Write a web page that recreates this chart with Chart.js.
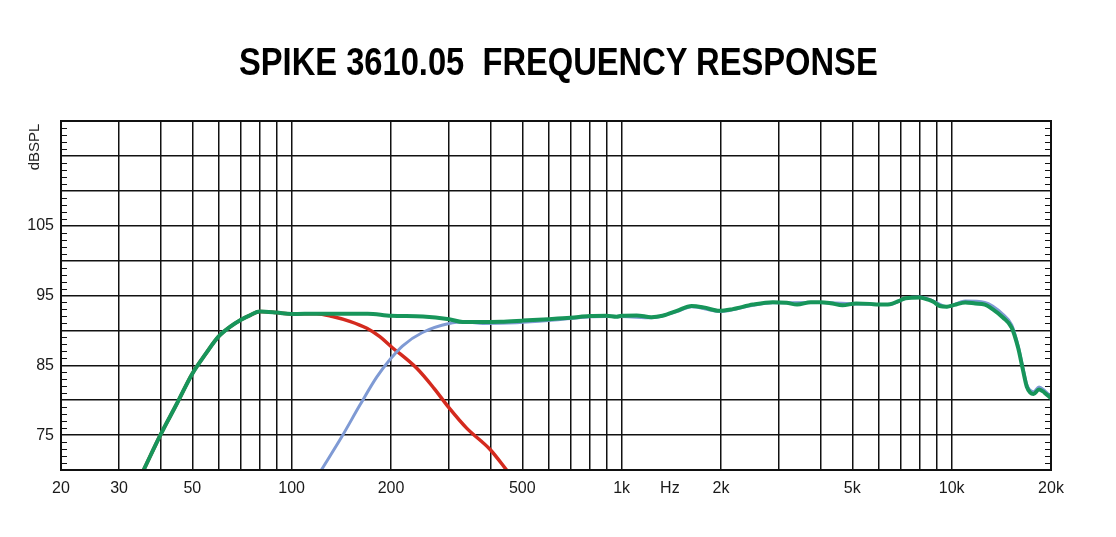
<!DOCTYPE html>
<html>
<head>
<meta charset="utf-8">
<script src="https://cdn.jsdelivr.net/npm/chart.js@4.4.1/dist/chart.umd.min.js"></script>
<style>
  html, body { margin: 0; padding: 0; background: #ffffff; }
  #wrap { position: relative; width: 1116px; height: 537px; }
  #title {
    position: absolute; left: 0; top: 43px; width: 1116px;
    text-align: center; line-height: 38px;
    font-family: "Liberation Sans", Arial, sans-serif; font-weight: bold; font-size: 38px;
    color: #000; white-space: pre;
  }
  #title span { display: inline-block; transform: scaleX(0.86); transform-origin: center; }
  canvas { position: absolute; left: 0; top: 0; }
</style>
</head>
<body>
<div id="wrap">
  <canvas id="freqChart" width="1116" height="537"></canvas>
  <div id="title"><span>SPIKE 3610.05  FREQUENCY RESPONSE</span></div>
</div>
<script>
// ---------------------------------------------
// Datos (Hz / dB SPL)
// ---------------------------------------------
const totalFreq = [35.6, 40, 45, 50, 55, 60, 65, 70, 75, 80, 90, 100, 120, 150, 170, 200, 250, 300, 330, 380, 430,
  500, 600, 700, 800, 900, 965, 1000, 1110, 1230, 1330, 1470, 1630, 1770, 1980, 2170, 2500, 2870, 3160, 3400,
  3740, 4000, 4300, 4670, 5130, 5650, 6000, 6500, 6900, 7250, 8000, 8500, 8800, 9200, 9670, 10200, 11000,
  11800, 12600, 13300, 14300, 15200, 15900, 16400, 16900, 17300, 17700, 18400, 19100, 20000];
const totalDb = [70, 75, 79.6, 83.8, 86.7, 89.1, 90.5, 91.5, 92.2, 92.7, 92.55, 92.35, 92.4, 92.4, 92.4, 92.1, 92.0, 91.6, 91.2, 91.2, 91.25,
  91.4, 91.6, 91.8, 92.05, 92.1, 91.95, 92.1, 92.15, 91.9, 92.1, 92.8, 93.5, 93.3, 92.8, 93.05, 93.7, 94.05, 93.95, 93.7,
  94.05, 94.05, 93.9, 93.6, 93.85, 93.8, 93.7, 93.75, 94.2, 94.6, 94.7, 94.4, 94.1, 93.5, 93.4, 93.65, 94.0,
  93.85, 93.7, 93.06, 91.85, 90.4, 87.5, 84.6, 81.9, 81.1, 80.9, 81.55, 81.1, 80.3];

const highFreq = [123, 142, 161, 181, 200, 217, 249, 300, 339, 380, 480, 600, 700, 800, 900, 1000, 1230, 1470, 1630,
  1980, 2500, 2870, 4000, 5130, 6500, 7250, 8000, 8800, 9670, 11000, 12600, 13300, 14300, 15200, 15900, 16400,
  16900, 17700, 18400, 19100, 20000];
const highDb = [70, 74.8, 79.3, 83.3, 86.0, 87.8, 89.7, 91.0, 91.2, 91.0, 91.1, 91.4, 91.7, 91.95, 92.0, 92.0, 91.8, 92.7, 93.4,
  92.7, 93.6, 93.95, 94.0, 93.8, 93.7, 94.6, 94.8, 94.2, 93.4, 94.2, 94.0, 93.5, 92.3, 90.8, 87.8, 84.9,
  82.2, 81.2, 81.9, 81.4, 80.5];

const lowFreq = [35.6, 40, 45, 50, 55, 60, 65, 70, 75, 80, 90, 100, 119, 133, 150, 169, 185, 200, 239, 270, 300, 339, 400, 448];
const lowDb = [70, 75, 79.6, 83.8, 86.7, 89.1, 90.5, 91.5, 92.2, 92.7, 92.55, 92.35, 92.4, 92.0, 91.3, 90.3, 89.1, 87.7, 84.6, 81.7, 78.9, 76, 72.9, 70];

// Marcas del eje X (Hz) y sus etiquetas
const xTicks = [20, 30, 40, 50, 60, 70, 80, 90, 100, 200, 300, 400, 500, 600, 700, 800, 900, 1000, 1400,
  2000, 3000, 4000, 5000, 6000, 7000, 8000, 9000, 10000, 20000];
const xLabels = { 20: "20", 30: "30", 50: "50", 100: "100", 200: "200", 500: "500", 1000: "1k", 1400: "Hz",
  2000: "2k", 5000: "5k", 10000: "10k", 20000: "20k" };
const xNoGrid = [20, 1400, 20000];

// Marcas del eje Y
const yLabels = [75, 85, 95, 105];

function toPoints(freqs, dbs) {
  return freqs.map((f, i) => ({ x: f, y: dbs[i] }));
}

// ---------------------------------------------
// Plugin: marco, marcas menores y texto dBSPL
// ---------------------------------------------
const framePlugin = {
  id: "frame",
  beforeDatasetsDraw(chart) {
    const { ctx, chartArea, scales } = chart;
    ctx.save();
    ctx.strokeStyle = "#111";
    ctx.lineWidth = 1;
    for (let v = 71; v < 120; v++) {
      if (v % 5 === 0) continue;
      const y = Math.round(scales.y.getPixelForValue(v)) + 0.5;
      ctx.beginPath();
      ctx.moveTo(chartArea.left, y);
      ctx.lineTo(chartArea.left + 6, y);
      ctx.moveTo(chartArea.right - 6, y);
      ctx.lineTo(chartArea.right, y);
      ctx.stroke();
    }
    ctx.restore();
  },
  afterDraw(chart) {
    const { ctx, chartArea } = chart;
    ctx.save();
    ctx.strokeStyle = "#111";
    ctx.lineWidth = 2;
    ctx.strokeRect(chartArea.left, chartArea.top, chartArea.right - chartArea.left, chartArea.bottom - chartArea.top);
    ctx.fillStyle = "#222";
    ctx.font = "15px 'Liberation Sans', Arial, sans-serif";
    ctx.translate(35, 147);
    ctx.rotate(-Math.PI / 2);
    ctx.textAlign = "center";
    ctx.textBaseline = "middle";
    ctx.fillText("dBSPL", 0, 0);
    ctx.restore();
  }
};

const ctx = document.getElementById("freqChart").getContext("2d");

new Chart(ctx, {
  type: "line",
  data: {
    datasets: [
      {
        label: "Total",
        data: toPoints(totalFreq, totalDb),
        borderColor: "#17955a",
        borderWidth: 4,
        pointRadius: 0,
        cubicInterpolationMode: "monotone",
        fill: false
      },
      {
        label: "HF",
        data: toPoints(highFreq, highDb),
        borderColor: "#7f9ad4",
        borderWidth: 3,
        pointRadius: 0,
        cubicInterpolationMode: "monotone",
        fill: false
      },
      {
        label: "LF",
        data: toPoints(lowFreq, lowDb),
        borderColor: "#d42a1e",
        borderWidth: 3.5,
        pointRadius: 0,
        cubicInterpolationMode: "monotone",
        fill: false
      }
    ]
  },
  options: {
    responsive: false,
    animation: false,
    layout: { padding: { top: 121, right: 65, left: 0, bottom: 0 } },
    plugins: {
      legend: { display: false },
      tooltip: { enabled: false },
      title: { display: false }
    },
    scales: {
      x: {
        type: "logarithmic",
        min: 20,
        max: 20000,
        afterBuildTicks(scale) {
          scale.ticks = xTicks.map(v => ({ value: v }));
        },
        afterFit(scale) {
          scale.height = 67;
        },
        grid: {
          color: (c) => (c.tick && xNoGrid.includes(c.tick.value)) ? "rgba(0,0,0,0)" : "#111",
          lineWidth: 1.5,
          drawTicks: false
        },
        border: { display: true, color: "#111", width: 2 },
        ticks: {
          autoSkip: false,
          maxRotation: 0,
          padding: 9,
          color: "#1a1a1a",
          font: { family: "'Liberation Sans', Arial, sans-serif", size: 16 },
          callback: (value) => xLabels[value] || ""
        }
      },
      y: {
        type: "linear",
        min: 70,
        max: 120,
        afterFit(scale) {
          scale.width = 61;
        },
        grid: { color: "#111", lineWidth: 1.5, drawTicks: false },
        border: { display: true, color: "#111", width: 2 },
        ticks: {
          stepSize: 5,
          padding: 7,
          color: "#1a1a1a",
          font: { family: "'Liberation Sans', Arial, sans-serif", size: 16 },
          callback: (value) => yLabels.includes(value) ? String(value) : ""
        }
      }
    }
  },
  plugins: [framePlugin]
});
</script>
</body>
</html>
